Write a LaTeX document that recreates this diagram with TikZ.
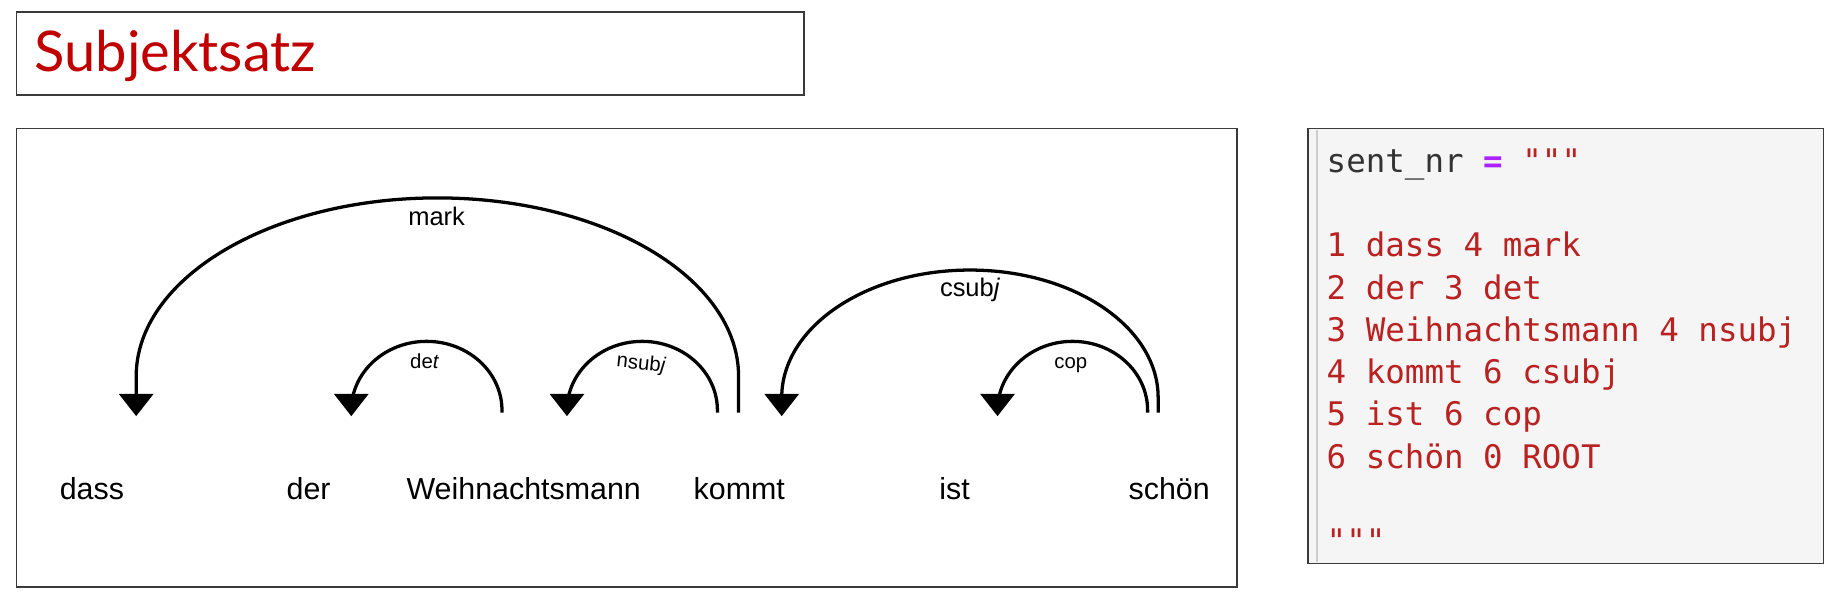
\documentclass[tikz,border=0pt]{standalone}
\usepackage{fontspec}
\setmainfont{Liberation Sans}
\setmonofont{DejaVu Sans Mono}
\newfontfamily\titelfont{Lato}
\usetikzlibrary{arrows.meta}

\definecolor{titelrot}{HTML}{C00000}
\definecolor{coderot}{HTML}{BA2121}
\definecolor{codelila}{HTML}{AA22FF}
\definecolor{codegrau}{HTML}{F5F5F5}
\definecolor{rahmen}{HTML}{3A3A3A}

\begin{document}
\begin{tikzpicture}[x=0.5pt,y=0.5pt]
        \tikzstyle{kasten}=[draw=rahmen, line width=0.7pt]
        \tikzstyle{wort}=[font=\fontsize{13}{15}\selectfont, anchor=base, inner sep=0pt]
        \tikzstyle{rel}=[font=\fontsize{8.7}{10}\selectfont, anchor=base, inner sep=0pt]
        \tikzstyle{relgross}=[font=\fontsize{10.9}{12}\selectfont, anchor=base, inner sep=0pt]
        \tikzstyle{bogen}=[line width=1.4pt, -{Triangle[width=14.5pt,length=9.5pt]}]
        \tikzstyle{zeile}=[font=\ttfamily\fontsize{13.9}{16}\selectfont, text=coderot, anchor=base west, inner sep=0pt]

        \useasboundingbox (0,0) rectangle (1568,-514.1);

        % Titel
        \draw[kasten] (14,-10) rectangle (688,-81);
        \node[anchor=base west, inner sep=0pt, text=titelrot, font=\titelfont\fontsize{24}{28}\selectfont] (titel) at (29,-61.3) {Subjektsatz};

        % Baum
        \draw[kasten] (14,-110) rectangle (1058,-502);

        \node[wort] (dass) at (78.6,-427) {dass};
        \node[wort] (der) at (264,-427) {der};
        \node[wort] (mann) at (448,-427) {Weihnachtsmann};
        \node[wort] (kommt) at (632.4,-427) {kommt};
        \node[wort] (ist) at (816.6,-427) {ist};
        \node[wort] (schoen) at (1000.2,-427) {schön};

        \coordinate (dassIn) at (116.5,-356);
        \coordinate (derIn) at (300.5,-356);
        \coordinate (mannIn) at (485,-356);
        \coordinate (kommtIn) at (668.7,-356);
        \coordinate (istIn) at (853.3,-356);
        \coordinate (kommtA) at (613.7,-353);
        \coordinate (kommtB) at (631.8,-353);
        \coordinate (mannA) at (429.4,-353);
        \coordinate (schoenA) at (981.7,-353);
        \coordinate (schoenB) at (990.7,-353);

        \draw[bogen] (kommtB) -- ++(0,31) arc[start angle=0, end angle=180, x radius=257.65, y radius=152.7] -- (dassIn);
        \draw[bogen] (mannA) -- ++(0,2) arc[start angle=0, end angle=180, x radius=64.45, y radius=59] -- (derIn);
        \draw[bogen] (kommtA) -- ++(0,2) arc[start angle=0, end angle=180, x radius=64.35, y radius=59] -- (mannIn);
        \draw[bogen] (schoenB) -- ++(0,13) arc[start angle=0, end angle=180, x radius=161, y radius=109] -- (kommtIn);
        \draw[bogen] (schoenA) -- ++(0,2) arc[start angle=0, end angle=180, x radius=64.2, y radius=59] -- (istIn);

        \node[relgross] (mark) at (373.5,-192.9) {mark};
        \node[rel] (det) at (363.3,-315.4) {de\textit{t}};
        \node[rel, rotate=-6] (nsubj) at (548,-316) {nsub\textit{j}};
        \node[relgross] (csubj) at (829.8,-253.3) {csub\textit{j}};
        \node[rel] (cop) at (916,-315.4) {cop};

        % Code
        \draw[kasten, fill=codegrau] (1119,-110) rectangle (1560,-482);
        \draw[black!20, line width=1pt] (1126.6,-111) -- (1126.6,-481);

        \node[zeile, text=black!80] (z0) at (1134.5,-147.9) {sent\_nr \textcolor{codelila}{\textbf{=}} \textcolor{coderot}{"""}};
        \node[zeile] (z1) at (1134.5,-219.6) {1 dass 4 mark};
        \node[zeile] (z2) at (1134.5,-255.8) {2 der 3 det};
        \node[zeile] (z3) at (1134.5,-292) {3 Weihnachtsmann 4 nsubj};
        \node[zeile] (z4) at (1134.5,-328.2) {4 kommt 6 csubj};
        \node[zeile] (z5) at (1134.5,-364.4) {5 ist 6 cop};
        \node[zeile] (z6) at (1134.5,-400.6) {6 schön 0 ROOT};
        \node[zeile] (z7) at (1134.5,-473) {"""};
      \end{tikzpicture}
\end{document}
